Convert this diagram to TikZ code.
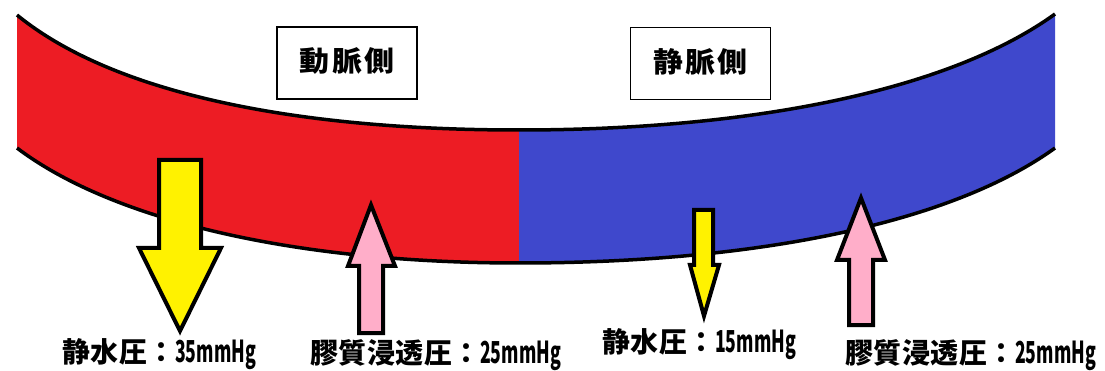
\documentclass[tikz,border=0pt]{standalone}
\usepackage{fontspec}
\newfontfamily\jp{Noto Sans CJK JP}
\definecolor{pred}{HTML}{ED1C24}
\definecolor{pblue}{HTML}{3F48CC}
\definecolor{pyellow}{HTML}{FFF200}
\definecolor{ppink}{HTML}{FFAEC9}
\newcommand{\lat}[1]{\scalebox{0.63}[1.08]{#1}}
\newcommand{\jk}{\kern0.5pt}
\begin{document}
\begin{tikzpicture}[x=1pt,y=-1pt,
  outline/.style={draw=black,line width=3.5pt},
  arrowshape/.style={draw=black,line width=4pt,line join=miter},
  lbl/.style={inner sep=0pt,anchor=west,font=\jp\bfseries\fontsize{28pt}{32pt}\selectfont},
  sidebox/.style={draw=black,line width=1.2pt,fill=white,minimum width=140pt,minimum height=72pt,inner sep=0pt,
    font=\jp\bfseries\fontsize{28pt}{32pt}\selectfont}
]
\useasboundingbox (0,0) rectangle (1105,371);
% band
\fill[pred] (17,15) .. controls (115,95) and (300,130) .. (519,130) -- (519,263)
  .. controls (300,263) and (115,222) .. (17,148) -- cycle;
\fill[pblue] (519,130) .. controls (753,130) and (950,90) .. (1055,14) -- (1055,148)
  .. controls (950,224) and (753,263) .. (519,263) -- cycle;
\draw[outline] (17,15) .. controls (115,95) and (300,130) .. (519,130)
  .. controls (753,130) and (950,90) .. (1055,14);
\draw[outline] (17,148) .. controls (115,222) and (300,263) .. (519,263)
  .. controls (753,263) and (950,224) .. (1055,148);
% boxes
\node[sidebox] (art) at (347,63) {\raisebox{6pt}{\scalebox{1.07}[1]{動\kern2pt 脈\kern2pt 側}}};
\node[sidebox] (ven) at (700.5,63.5) {\raisebox{6pt}{\scalebox{1.07}[1]{静\kern2pt 脈\kern2pt 側}}};
% arrows
\filldraw[arrowshape,fill=pyellow] (159,160) -- (201,160) -- (201,248) -- (221,248) -- (180,331)
  -- (139,248) -- (159,248) -- cycle;
\filldraw[arrowshape,fill=ppink] (371,205) -- (395,266) -- (383,266) -- (383,333) -- (359,333)
  -- (359,266) -- (348,266) -- cycle;
\filldraw[arrowshape,fill=pyellow] (694,210) -- (713,210) -- (713,265) -- (719,265) -- (704,316)
  -- (690,265) -- (694,265) -- cycle;
\filldraw[arrowshape,fill=ppink] (861,198) -- (885,260) -- (873,260) -- (873,325) -- (849,325)
  -- (849,260) -- (837,260) -- cycle;
% labels
\node[lbl] (l1) at (62,354) {静\jk 水\jk 圧：\lat{35mmHg}};
\node[lbl] (l2) at (310,355) {膠\jk 質\jk 浸\jk 透\jk 圧：\lat{25mmHg}};
\node[lbl] (l3) at (602,344) {静\jk 水\jk 圧：\lat{15mmHg}};
\node[lbl] (l4) at (845,355) {膠\jk 質\jk 浸\jk 透\jk 圧：\lat{25mmHg}};
\end{tikzpicture}
\end{document}
